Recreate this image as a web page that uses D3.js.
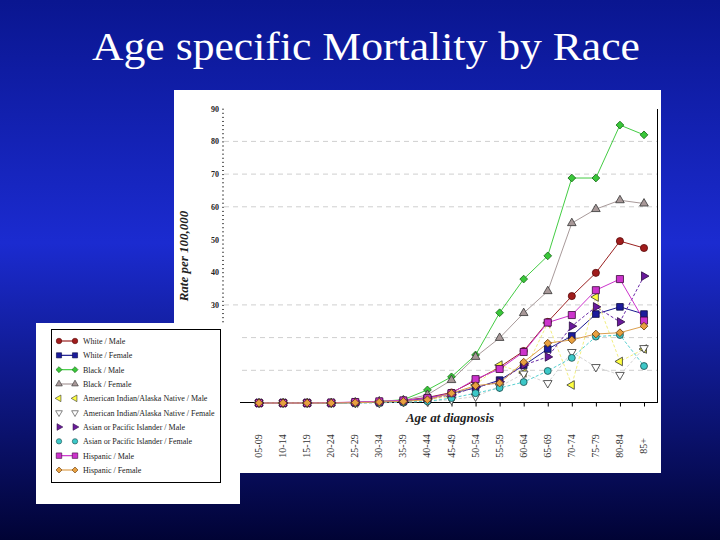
<!DOCTYPE html>
<html>
<head>
<meta charset="utf-8">
<script src="https://cdn.jsdelivr.net/npm/d3@7"></script>
<style>
  body { margin: 0; }
  svg { display: block; }
</style>
</head>
<body>
<svg id="chart" width="720" height="540"></svg>
<script>
// age groups on the x axis
var ageGroups = ["05-09","10-14","15-19","20-24","25-29","30-34","35-39","40-44",
                 "45-49","50-54","55-59","60-64","65-69","70-74","75-79","80-84","85+"];

// rates per 100,000
var whiteMale   = [0,0,0,0.1,0.2,0.3,0.8,1.7,3.2,6.9,11,15.9,24.8,32.7,39.8,49.5,47.4];
var whiteFemale = [0,0,0,0,0.1,0.2,0.5,1.5,3,4.6,7,11.5,16.5,20.5,27.2,29.4,27.2];
var blackMale   = [0,0,0,0,0.2,0.5,1,4,8,14.7,27.6,37.9,45,68.8,68.8,85,82];
var blackFemale = [0,0,0,0,0.2,0.5,0.8,2.5,7,14.1,19.9,27.5,34.2,55,59.3,62,61];
var amIndMale   = [0,0,0,0,0,0.3,0.5,1,2,5.5,11.6,9.2,24.5,5.5,32.4,12.7,16.5];
var amIndFemale = [0,0,0,0,0,0,0.3,0.5,1,2,5,9,6.1,15.6,11,8.6,16.8];
var asianMale   = [0,0,0,0,0.1,0.2,0.5,1.2,2.5,4.8,6.5,11.6,14.1,23.5,29.4,24.8,38.8];
var asianFemale = [0,0,0,0,0,0.1,0.3,0.5,1.5,3,4.6,6.4,9.8,13.8,20.3,20.8,11.3];
var hispMale    = [0,0,0,0.1,0.3,0.5,0.8,1.5,3,7.3,10.4,15.6,24.6,26.9,34.5,37.9,25.2];
var hispFemale  = [0,0,0,0,0.1,0.3,0.5,1,3,5.3,6.1,12.5,18.3,19.3,21.1,21.5,23.5];

var seriesNames = ["White / Male","White / Female","Black / Male","Black / Female",
                   "American Indian/Alaska Native / Male","American Indian/Alaska Native / Female",
                   "Asian or Pacific Islander / Male","Asian or Pacific Islander / Female",
                   "Hispanic / Male","Hispanic / Female"];
var seriesValues = [whiteMale, whiteFemale, blackMale, blackFemale, amIndMale,
                    amIndFemale, asianMale, asianFemale, hispMale, hispFemale];

// labels 0-20 sit under the legend box in the original, so only these show
var yTicks = [30,40,50,60,70,80,90];
var gridValues = [10,20,30,60,70,80];

// look of each series (diamonds are squares turned 45deg)
var styles = [
  {line:"#9a2222", fill:"#a01c1c", stroke:"#5a0a0a", shape:d3.symbolCircle,   rot:0,   size:40, legendLine:true},
  {line:"#1b1b90", fill:"#1c1c9c", stroke:"#0a0a40", shape:d3.symbolSquare,   rot:0,   size:44, legendLine:true},
  {line:"#44cc44", fill:"#39c739", stroke:"#1a6a1a", shape:d3.symbolSquare,   rot:45,  size:30, legendLine:true},
  {line:"#a89a9a", fill:"#a89898", stroke:"#333333", shape:d3.symbolTriangle, rot:0,   size:32, legendLine:true},
  {line:"#f2ee80", fill:"#ffff40", stroke:"#333333", shape:d3.symbolTriangle, rot:-90, size:32, legendLine:false, dash:"3,2"},
  {line:"#d4d4d4", fill:"#ffffff", stroke:"#333333", shape:d3.symbolTriangle, rot:180, size:32, legendLine:false, dash:"3,2"},
  {line:"#6a2aa8", fill:"#6a1a9c", stroke:"#2a0a40", shape:d3.symbolTriangle, rot:90,  size:32, legendLine:false, dash:"3,2"},
  {line:"#55d0d0", fill:"#3cc8c8", stroke:"#1a4a4a", shape:d3.symbolCircle,   rot:0,   size:38, legendLine:false, dash:"3,2"},
  {line:"#cc33cc", fill:"#cc33cc", stroke:"#3a0a3a", shape:d3.symbolSquare,   rot:0,   size:50, legendLine:true},
  {line:"#dca050", fill:"#e8a040", stroke:"#6a4010", shape:d3.symbolSquare,   rot:45,  size:30, legendLine:true}
];

var svg = d3.select("#chart");
var serif = "'Times New Roman', 'Liberation Serif', Times, serif";

// blue slide background
var defs = svg.append("defs");
var grad = defs.append("linearGradient").attr("id","bg").attr("x1",0).attr("y1",0).attr("x2",0).attr("y2",1);
grad.append("stop").attr("offset","0%").attr("stop-color","#0a1690");
grad.append("stop").attr("offset","45%").attr("stop-color","#1b2bd0");
grad.append("stop").attr("offset","100%").attr("stop-color","#010335");
svg.append("rect").attr("width",720).attr("height",540).attr("fill","url(#bg)");

svg.append("text")
  .attr("x",366).attr("y",60)
  .attr("text-anchor","middle")
  .attr("textLength",548).attr("lengthAdjust","spacingAndGlyphs")
  .style("font-family",serif)
  .style("font-size","41px")
  .attr("fill","#ffffff")
  .text("Age specific Mortality by Race");

// white chart panel
svg.append("rect").attr("x",174).attr("y",90).attr("width",487).attr("height",383).attr("fill","#ffffff");

var x = d3.scalePoint().domain(ageGroups).range([259,644]);
var y = d3.scaleLinear().domain([0,90]).range([403,108.7]);

// dashed grid
svg.append("g").selectAll("line")
  .data(gridValues)
  .enter().append("line")
  .attr("x1",224).attr("x2",657)
  .attr("y1",function(d){ return y(d); })
  .attr("y2",function(d){ return y(d); })
  .attr("stroke","#cfcfcf")
  .attr("stroke-dasharray","5,4");

// y axis: dotted minor ticks plus labels
var minor = d3.range(0, 90.01, 1.25);
var yMinor = svg.append("g").attr("transform","translate(224,0)")
  .call(d3.axisLeft(y).tickValues(minor).tickSize(2).tickFormat(""));
yMinor.select(".domain").remove();
yMinor.selectAll("line").attr("stroke","#555");

var yAxis = svg.append("g").attr("transform","translate(219,0)")
  .call(d3.axisLeft(y).tickValues(yTicks).tickSize(0).tickPadding(0));
yAxis.select(".domain").remove();
yAxis.selectAll("text")
  .style("font-family",serif).style("font-size","8px").style("font-weight","bold")
  .attr("fill","#222");

// right frame line
svg.append("line").attr("x1",657.5).attr("x2",657.5).attr("y1",109).attr("y2",403)
  .attr("stroke","#000").attr("stroke-width",1);

// x axis
var xAxis = svg.append("g").attr("transform","translate(0,402.5)")
  .call(d3.axisBottom(x).tickSize(4).tickFormat(""));
xAxis.select(".domain").attr("d","M224,0H657").attr("stroke","#000");
xAxis.selectAll("line").attr("stroke","#000");

svg.append("g").selectAll("text")
  .data(ageGroups)
  .enter().append("text")
  .attr("transform",function(d){ return "translate(" + (x(d)+3) + ",446) rotate(-90)"; })
  .attr("text-anchor","middle")
  .style("font-family",serif).style("font-size","10px")
  .attr("fill","#333")
  .text(function(d){ return d; });

svg.append("text")
  .attr("x",450).attr("y",422)
  .attr("text-anchor","middle")
  .style("font-family",serif).style("font-size","13px")
  .style("font-weight","bold").style("font-style","italic")
  .attr("fill","#222")
  .text("Age at diagnosis");

svg.append("text")
  .attr("transform","translate(188,256) rotate(-90)")
  .attr("text-anchor","middle")
  .style("font-family",serif).style("font-size","13px")
  .style("font-weight","bold").style("font-style","italic")
  .attr("fill","#222")
  .text("Rate per 100,000");

// lines and markers
var line = d3.line()
  .x(function(d,i){ return x(ageGroups[i]); })
  .y(function(d){ return y(d); });

var plot = svg.append("g");
seriesValues.forEach(function(vals, k){
  var st = styles[k];
  plot.append("path")
    .datum(vals)
    .attr("d", line)
    .attr("fill","none")
    .attr("stroke", st.line)
    .attr("stroke-width",1)
    .attr("stroke-dasharray", st.dash || null);
});
seriesValues.forEach(function(vals, k){
  var st = styles[k];
  var sym = d3.symbol().type(st.shape).size(st.size);
  plot.append("g").selectAll("path")
    .data(vals)
    .enter().append("path")
    .attr("d", sym)
    .attr("transform", function(d,i){
      return "translate(" + x(ageGroups[i]) + "," + y(d) + ") rotate(" + st.rot + ")";
    })
    .attr("fill", st.fill)
    .attr("stroke", st.stroke)
    .attr("stroke-width",0.8);
});

// legend box
svg.append("rect").attr("x",36).attr("y",323).attr("width",204).attr("height",181).attr("fill","#ffffff");
svg.append("rect").attr("x",51.5).attr("y",329.5).attr("width",169).attr("height",153)
  .attr("fill","none").attr("stroke","#000").attr("stroke-width",1);

var legendY = d3.scaleLinear().domain([0,9]).range([341,470]);
var legend = svg.append("g");
seriesNames.forEach(function(name, k){
  var st = styles[k];
  var ly = legendY(k);
  if (st.legendLine) {
    legend.append("line").attr("x1",59).attr("x2",75).attr("y1",ly).attr("y2",ly)
      .attr("stroke",st.line).attr("stroke-width",1.2);
  }
  var sym = d3.symbol().type(st.shape).size(st.size * 0.6);
  [59,75].forEach(function(px){
    legend.append("path").attr("d",sym)
      .attr("transform","translate(" + px + "," + ly + ") rotate(" + st.rot + ")")
      .attr("fill",st.fill).attr("stroke",st.stroke).attr("stroke-width",0.6);
  });
  legend.append("text")
    .attr("x",83).attr("y",ly + 3)
    .style("font-family",serif).style("font-size","8px")
    .attr("fill","#222")
    .text(name);
});
</script>
</body>
</html>
